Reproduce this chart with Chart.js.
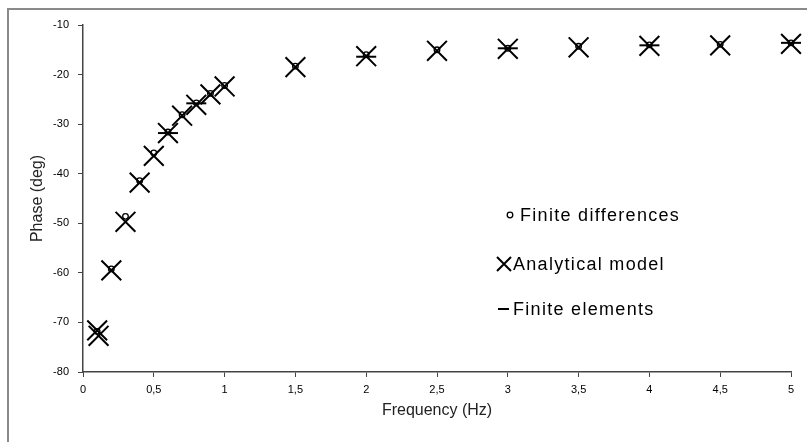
<!DOCTYPE html>
<html>
<head>
<meta charset="utf-8">
<script src="https://cdn.jsdelivr.net/npm/chart.js@4.4.1/dist/chart.umd.min.js"></script>
<style>
    html, body { margin: 0; padding: 0; background: #fff; }
    #wrap { width: 807px; height: 442px; position: relative; }
</style>
</head>
<body>
<div id="wrap"><canvas id="chartCanvas"></canvas></div>
<script>
/* ----------------------------------------
   DATA
---------------------------------------- */
const seriesNames = ["Finite differences", "Analytical model", "Finite elements"];

const freqFD  = [0.1, 0.2, 0.3, 0.4, 0.5, 0.6, 0.7, 0.8, 0.9, 1.0, 1.5, 2, 2.5, 3, 3.5, 4, 4.5, 5];
const phaseFD = [-71.8, -59.2, -48.6, -41.4, -35.8, -31.6, -28.1, -25.7, -23.8, -22.2, -18.3, -16.0, -15.0, -14.7, -14.3, -14.0, -13.9, -13.6];

const freqAM  = [0.1, 0.11, 0.2, 0.3, 0.4, 0.5, 0.6, 0.7, 0.8, 0.9, 1.0, 1.5, 2, 2.5, 3, 3.5, 4, 4.5, 5];
const phaseAM = [-71.6, -72.7, -59.5, -49.7, -41.8, -36.4, -31.8, -28.3, -26.1, -24.0, -22.4, -18.5, -16.3, -15.2, -14.8, -14.5, -14.2, -14.1, -13.8];

const freqFE  = [0.6, 0.8, 2, 3, 4, 5];
const phaseFE = [-31.8, -25.8, -16.4, -14.7, -14.1, -13.6];

const xTickLabels = ["0", "0,5", "1", "1,5", "2", "2,5", "3", "3,5", "4", "4,5", "5"];
const yTickLabels = ["-80", "-70", "-60", "-50", "-40", "-30", "-20", "-10"];

const FONT = "'Liberation Sans', Arial, sans-serif";

function toPoints(xs, ys) {
    return xs.map((x, i) => ({ x: x, y: ys[i] }));
}

/* ----------------------------------------
   OUTER FRAME + LEGEND INSIDE PLOT
---------------------------------------- */
const framePlugin = {
    id: "frame",
    beforeDraw(chart) {
        const ctx = chart.ctx;
        ctx.save();
        ctx.fillStyle = "#fff";
        ctx.fillRect(0, 0, chart.width, chart.height);
        ctx.strokeStyle = "#8a8a8a";
        ctx.lineWidth = 2;
        ctx.strokeRect(8, 9, 900, 500);
        ctx.restore();
    }
};

const legendPlugin = {
    id: "insideLegend",
    afterDraw(chart) {
        const ctx = chart.ctx;
        const rows = [215, 264, 309];
        ctx.save();
        ctx.font = "18px " + FONT;
        ctx.fillStyle = "#000";
        ctx.strokeStyle = "#000";
        ctx.textBaseline = "middle";
        if ("letterSpacing" in ctx) ctx.letterSpacing = "1.3px";

        // circle
        ctx.lineWidth = 1.3;
        ctx.beginPath();
        ctx.arc(510, rows[0], 2.8, 0, Math.PI * 2);
        ctx.stroke();
        ctx.fillText(seriesNames[0], 520, rows[0] + 1);

        // cross
        ctx.lineWidth = 2;
        ctx.beginPath();
        ctx.moveTo(497, rows[1] - 7); ctx.lineTo(511, rows[1] + 7);
        ctx.moveTo(511, rows[1] - 7); ctx.lineTo(497, rows[1] + 7);
        ctx.stroke();
        ctx.fillText(seriesNames[1], 513, rows[1] + 1);

        // dash
        ctx.beginPath();
        ctx.moveTo(498, rows[2]); ctx.lineTo(509, rows[2]);
        ctx.stroke();
        ctx.fillText(seriesNames[2], 513, rows[2] + 1);
        ctx.restore();
    }
};

/* ----------------------------------------
   CHART
---------------------------------------- */
const ctx = document.getElementById("chartCanvas").getContext("2d");

new Chart(ctx, {
    type: "scatter",
    data: {
        datasets: [
            {
                label: seriesNames[0],
                data: toPoints(freqFD, phaseFD),
                clip: false,
                pointStyle: "circle",
                pointRadius: 2.8,
                pointBorderWidth: 1.3,
                borderColor: "#000",
                backgroundColor: "transparent"
            },
            {
                label: seriesNames[1],
                data: toPoints(freqAM, phaseAM),
                clip: false,
                pointStyle: "crossRot",
                pointRadius: 14,
                pointBorderWidth: 2,
                borderColor: "#000",
                backgroundColor: "#000"
            },
            {
                label: seriesNames[2],
                data: toPoints(freqFE, phaseFE),
                clip: false,
                pointStyle: "line",
                pointRadius: 10,
                pointBorderWidth: 2,
                borderColor: "#000",
                backgroundColor: "#000"
            }
        ]
    },
    options: {
        responsive: true,
        maintainAspectRatio: false,
        animation: false,
        events: [],
        layout: { padding: { left: 0, top: 25, right: 14, bottom: 0 } },
        plugins: {
            legend: { display: false },
            tooltip: { enabled: false }
        },
        scales: {
            x: {
                type: "linear",
                min: 0,
                max: 5,
                afterFit: s => { s.height = 70; },
                grid: { drawOnChartArea: false, tickLength: 5, color: "#444" },
                border: { color: "#444", width: 1.5 },
                ticks: {
                    stepSize: 0.5,
                    autoSkip: false,
                    maxRotation: 0,
                    padding: 6,
                    color: "#000",
                    font: { family: FONT, size: 11 },
                    callback: (v, i) => xTickLabels[i]
                },
                title: {
                    display: true,
                    text: "Frequency (Hz)",
                    color: "#222",
                    font: { family: FONT, size: 16 },
                    padding: { top: 0, bottom: 22 }
                }
            },
            y: {
                type: "linear",
                min: -80,
                max: -10,
                afterFit: s => { s.width = 83; },
                grid: { drawOnChartArea: false, tickLength: 5, color: "#444" },
                border: { color: "#444", width: 1.5 },
                ticks: {
                    stepSize: 10,
                    padding: 9,
                    color: "#000",
                    font: { family: FONT, size: 11 },
                    callback: (v, i) => yTickLabels[i]
                },
                title: {
                    display: true,
                    text: "Phase (deg)",
                    color: "#222",
                    font: { family: FONT, size: 16 },
                    padding: { top: 28, bottom: 0 }
                }
            }
        }
    },
    plugins: [framePlugin, legendPlugin]
});
</script>
</body>
</html>
